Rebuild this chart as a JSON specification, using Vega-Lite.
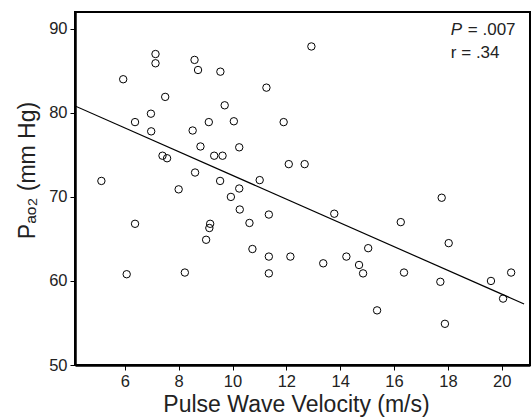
{
  "$schema": "https://vega.github.io/schema/vega-lite/v6.json",
  "autosize": "none",
  "width": 455,
  "height": 353,
  "padding": {"left": 75, "top": 12, "right": 1, "bottom": 52},
  "background": "white",
  "config": {
    "font": "Liberation Sans",
    "view": {"stroke": "black", "strokeWidth": 2},
    "axis": {
      "grid": false,
      "domainColor": "black",
      "domainWidth": 2.5,
      "tickColor": "black",
      "tickSize": 5,
      "tickWidth": 1,
      "labelFontSize": 16.5,
      "labelColor": "#222",
      "labelFont": "Liberation Sans",
      "titleFont": "Liberation Sans",
      "titleFontSize": 23,
      "titleFontWeight": "normal",
      "titleColor": "#222"
    }
  },
  "datasets": {
    "pts": [
      {"pwv": 5.13, "pao2": 71.9}, {"pwv": 5.94, "pao2": 84.0}, {"pwv": 7.14, "pao2": 87.0},
      {"pwv": 7.14, "pao2": 85.9}, {"pwv": 7.5, "pao2": 81.9}, {"pwv": 6.97, "pao2": 79.9},
      {"pwv": 6.38, "pao2": 78.9}, {"pwv": 6.98, "pao2": 77.8}, {"pwv": 7.4, "pao2": 74.9},
      {"pwv": 7.57, "pao2": 74.6}, {"pwv": 8.59, "pao2": 86.3}, {"pwv": 8.72, "pao2": 85.1},
      {"pwv": 9.55, "pao2": 84.9}, {"pwv": 11.26, "pao2": 83.0}, {"pwv": 9.71, "pao2": 80.9},
      {"pwv": 9.12, "pao2": 78.9}, {"pwv": 10.05, "pao2": 79.0}, {"pwv": 8.52, "pao2": 77.9},
      {"pwv": 8.81, "pao2": 76.0}, {"pwv": 10.25, "pao2": 75.9}, {"pwv": 9.32, "pao2": 74.9},
      {"pwv": 9.63, "pao2": 74.9}, {"pwv": 11.9, "pao2": 78.9}, {"pwv": 12.09, "pao2": 73.9},
      {"pwv": 8.61, "pao2": 72.9}, {"pwv": 9.54, "pao2": 71.9}, {"pwv": 11.01, "pao2": 72.0},
      {"pwv": 8.0, "pao2": 70.9}, {"pwv": 10.25, "pao2": 71.0}, {"pwv": 9.94, "pao2": 70.0},
      {"pwv": 12.93, "pao2": 87.9}, {"pwv": 12.68, "pao2": 73.9},
      {"pwv": 10.27, "pao2": 68.5}, {"pwv": 11.35, "pao2": 67.9}, {"pwv": 6.38, "pao2": 66.8},
      {"pwv": 9.17, "pao2": 66.8}, {"pwv": 9.14, "pao2": 66.3}, {"pwv": 10.63, "pao2": 66.9},
      {"pwv": 9.02, "pao2": 64.9}, {"pwv": 10.74, "pao2": 63.8}, {"pwv": 11.35, "pao2": 62.9},
      {"pwv": 12.15, "pao2": 62.9}, {"pwv": 6.07, "pao2": 60.8}, {"pwv": 8.23, "pao2": 61.0},
      {"pwv": 11.35, "pao2": 60.9},
      {"pwv": 13.78, "pao2": 68.0}, {"pwv": 16.25, "pao2": 67.0}, {"pwv": 17.77, "pao2": 69.9},
      {"pwv": 18.03, "pao2": 64.5}, {"pwv": 13.37, "pao2": 62.1}, {"pwv": 14.23, "pao2": 62.9},
      {"pwv": 14.7, "pao2": 61.9}, {"pwv": 14.85, "pao2": 60.9}, {"pwv": 15.04, "pao2": 63.9},
      {"pwv": 16.37, "pao2": 61.0}, {"pwv": 17.72, "pao2": 59.9}, {"pwv": 15.37, "pao2": 56.5},
      {"pwv": 17.89, "pao2": 54.9}, {"pwv": 19.6, "pao2": 60.0}, {"pwv": 20.35, "pao2": 61.0},
      {"pwv": 20.05, "pao2": 57.9}
    ],
    "fit": [
      {"pwv": 4.15, "pao2": 80.82},
      {"pwv": 20.83, "pao2": 57.26}
    ],
    "italic": [
      {"pwv": 18.11, "pao2": 89.26, "label": "P"}
    ],
    "notes": [
      {"pwv": 18.74, "pao2": 89.26, "label": "= .007"},
      {"pwv": 18.11, "pao2": 86.53, "label": "r = .34"}
    ]
  },
  "layer": [
    {
      "data": {"name": "fit"},
      "mark": {"type": "line", "color": "black", "strokeWidth": 1.2, "clip": true},
      "encoding": {
        "x": {"field": "pwv", "type": "quantitative",
              "scale": {"domain": [4.15, 21.05], "nice": false, "zero": false},
              "axis": {"values": [6, 8, 10, 12, 14, 16, 18, 20], "title": "Pulse Wave Velocity (m/s)", "titlePadding": 4, "labelPadding": 3, "titleX": 221}},
        "y": {"field": "pao2", "type": "quantitative",
              "scale": {"domain": [50, 92], "nice": false, "zero": false},
              "axis": {"values": [50, 60, 70, 80, 90], "title": "Pₐₒ₂ (mm Hg)", "titlePadding": 9, "labelPadding": 3, "titleY": 158}}
      }
    },
    {
      "data": {"name": "pts"},
      "mark": {"type": "point", "shape": "circle", "filled": false, "stroke": "black", "strokeWidth": 1, "size": 55, "opacity": 1},
      "encoding": {
        "x": {"field": "pwv", "type": "quantitative"},
        "y": {"field": "pao2", "type": "quantitative"}
      }
    },
    {
      "data": {"name": "italic"},
      "mark": {"type": "text", "align": "left", "baseline": "alphabetic", "fontSize": 17, "fontStyle": "italic", "color": "#222", "font": "Liberation Sans"},
      "encoding": {
        "x": {"field": "pwv", "type": "quantitative"},
        "y": {"field": "pao2", "type": "quantitative"},
        "text": {"field": "label"}
      }
    },
    {
      "data": {"name": "notes"},
      "mark": {"type": "text", "align": "left", "baseline": "alphabetic", "fontSize": 17, "color": "#222", "font": "Liberation Sans"},
      "encoding": {
        "x": {"field": "pwv", "type": "quantitative"},
        "y": {"field": "pao2", "type": "quantitative"},
        "text": {"field": "label"}
      }
    }
  ]
}
